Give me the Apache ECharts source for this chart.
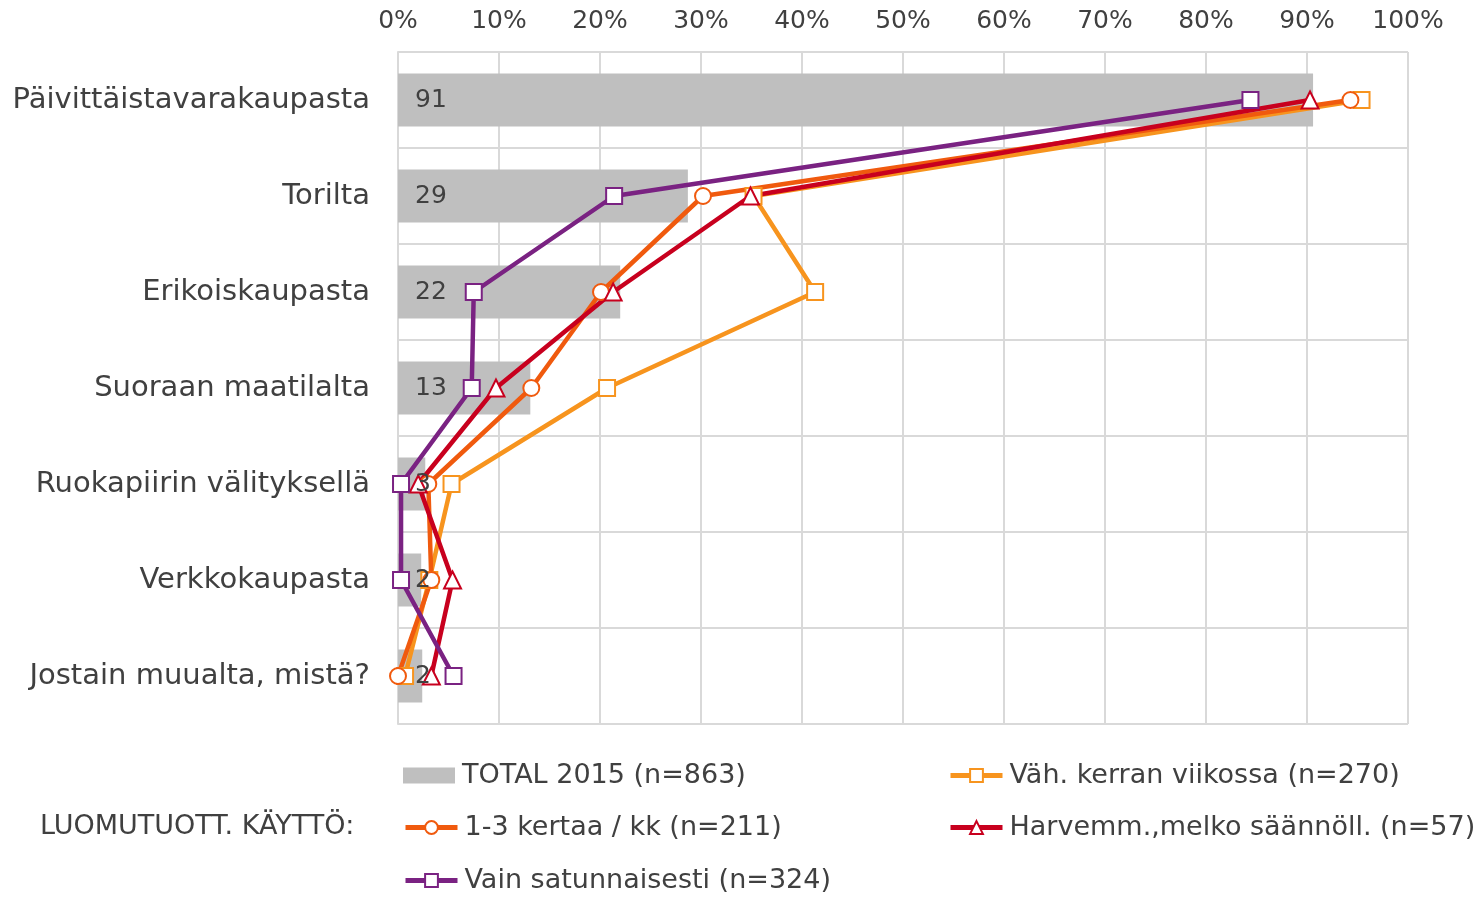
<!DOCTYPE html>
<html>
<head>
<meta charset="utf-8">
<script src="https://cdn.jsdelivr.net/npm/echarts@6/dist/echarts.min.js"></script>
<style>
  html, body { margin: 0; padding: 0; background: #fff; }
  #chart { width: 1476px; height: 897px; }
</style>
</head>
<body>
<div id="chart"></div>
<script>
  // kategoriat ylhäältä alas
  const categories = [
    'Päivittäistavarakaupasta',
    'Torilta',
    'Erikoiskaupasta',
    'Suoraan maatilalta',
    'Ruokapiirin välityksellä',
    'Verkkokaupasta',
    'Jostain muualta, mistä?'
  ];

  const total2015 = [90.6, 28.7, 22.0, 13.1, 2.7, 2.3, 2.4];
  const vahViikossa = [95.4, 35.2, 41.3, 20.7, 5.3, 3.1, 0.7];
  const kertaaKk = [94.3, 30.2, 20.1, 13.2, 3.0, 3.3, 0.0];
  const harvemm = [90.3, 34.9, 21.3, 9.7, 2.0, 5.4, 3.3];
  const satunnaisesti = [84.4, 21.4, 7.5, 7.3, 0.3, 0.3, 5.5];

  const names = [
    'TOTAL 2015 (n=863)',
    'Väh. kerran viikossa (n=270)',
    '1-3 kertaa / kk (n=211)',
    'Harvemm.,melko säännöll. (n=57)',
    'Vain satunnaisesti (n=324)'
  ];

  const font = "'DejaVu Sans', Verdana, sans-serif";
  const txt = '#404040';

  const chart = echarts.init(document.getElementById('chart'));

  const lineSeries = (name, data, color, symbol, size) => ({
    name: name,
    type: 'line',
    data: data,
    symbol: symbol,
    symbolSize: size,
    showAllSymbol: true,
    lineStyle: { color: color, width: 4.5 },
    itemStyle: { color: '#fff', borderColor: color, borderWidth: 2 },
    z: 3
  });

  const legendItem = (name, left, top, icon) => ({
    data: [icon ? { name: name, icon: icon } : name],
    left: left,
    top: top,
    padding: 0,
    itemWidth: 52,
    itemHeight: 16,
    selectedMode: false,
    lineStyle: { width: 5 },
    textStyle: { fontFamily: font, fontSize: 27, color: txt, padding: [0, 0, 0, 2] }
  });

  chart.setOption({
    animation: false,
    grid: { left: 398, right: 68, top: 52, bottom: 173 },
    legend: [
      legendItem(names[0], 403, 762, 'rect'),
      legendItem(names[1], 948, 762),
      legendItem(names[2], 403, 814),
      legendItem(names[3], 948, 814),
      legendItem(names[4], 403, 867)
    ],
    graphic: [{
      type: 'text',
      left: 40,
      top: 813,
      style: { text: 'LUOMUTUOTT. KÄYTTÖ:', font: '27px ' + font, fill: txt }
    }],
    xAxis: {
      type: 'value',
      position: 'top',
      min: 0,
      max: 100,
      interval: 10,
      axisLine: { show: false },
      axisTick: { show: false },
      axisLabel: {
        formatter: '{value}%',
        fontFamily: font,
        fontSize: 25,
        color: txt,
        margin: 18
      },
      splitLine: { lineStyle: { color: '#D9D9D9', width: 2 } }
    },
    yAxis: {
      type: 'category',
      data: categories,
      inverse: true,
      axisLine: { lineStyle: { color: '#D9D9D9', width: 2 } },
      axisTick: { show: false },
      axisLabel: {
        fontFamily: font,
        fontSize: 29,
        color: txt,
        margin: 28,
        padding: [4, 0, 0, 0]
      },
      splitLine: { show: true, lineStyle: { color: '#D9D9D9', width: 2 } }
    },
    series: [
      {
        name: names[0],
        type: 'bar',
        data: total2015,
        barWidth: 53,
        itemStyle: { color: '#BFBFBF' },
        z: 2
      },
      lineSeries(names[1], vahViikossa, '#F7941E', 'rect', 16),
      lineSeries(names[2], kertaaKk, '#F05A0E', 'circle', 16),
      lineSeries(names[3], harvemm, '#C8001E', 'triangle', 17),
      lineSeries(names[4], satunnaisesti, '#7A2282', 'rect', 16),
      {
        // arvotekstit viivojen päälle
        name: 'labels',
        type: 'bar',
        data: total2015,
        barWidth: 53,
        barGap: '-100%',
        itemStyle: { color: 'transparent' },
        silent: true,
        label: {
          show: true,
          position: 'insideLeft',
          distance: 17,
          formatter: p => Math.round(p.value),
          fontFamily: font,
          fontSize: 25,
          color: txt
        },
        z: 5
      }
    ]
  });
</script>
</body>
</html>
